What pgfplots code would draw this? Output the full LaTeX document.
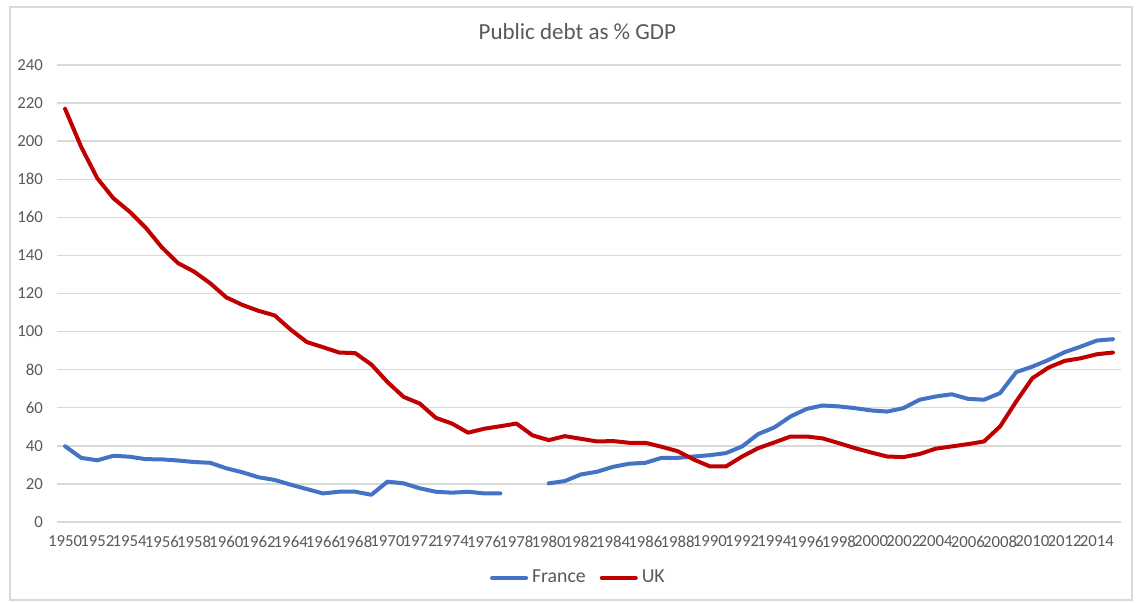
\documentclass[border=0pt]{standalone}
\usepackage{fontspec}
\setmainfont{Carlito}
\usepackage{xcolor}
\usepackage{pgfplots}
\pgfplotsset{compat=1.18}

\definecolor{frblue}{HTML}{4472C4}
\definecolor{ukred}{HTML}{C00000}
\definecolor{txtgrey}{HTML}{595959}
\definecolor{gridgrey}{HTML}{D9D9D9}

% public debt, % of GDP (nan = no data)
\pgfplotstableread{
year france uk
1950 39.8 217.0
1951 33.7 197.0
1952 32.4 180.5
1953 34.8 170.0
1954 34.3 163.0
1955 33.0 154.6
1956 32.9 144.3
1957 32.3 136.0
1958 31.5 131.5
1959 31.1 125.4
1960 28.2 118.0
1961 26.1 114.0
1962 23.5 110.9
1963 22.1 108.5
1964 19.6 101.0
1965 17.3 94.5
1966 15.0 91.8
1967 15.9 89.0
1968 15.9 88.7
1969 14.3 82.7
1970 21.2 73.5
1971 20.3 65.7
1972 17.7 62.2
1973 15.9 54.7
1974 15.4 51.7
1975 15.9 46.9
1976 15.0 49.0
1977 15.0 50.3
1978 nan 51.7
1979 nan 45.5
1980 20.3 43.0
1981 21.5 45.1
1982 25.0 43.7
1983 26.4 42.3
1984 29.0 42.5
1985 30.6 41.6
1986 31.1 41.6
1987 33.7 39.5
1988 33.7 37.2
1989 34.4 32.8
1990 35.1 29.2
1991 36.2 29.2
1992 39.7 34.4
1993 46.2 38.8
1994 49.7 41.8
1995 55.4 44.9
1996 59.4 44.9
1997 61.2 43.9
1998 60.7 41.4
1999 59.8 38.8
2000 58.6 36.5
2001 58.0 34.4
2002 59.8 34.1
2003 64.2 35.7
2004 65.9 38.5
2005 67.1 39.7
2006 64.7 40.9
2007 64.2 42.3
2008 67.7 50.2
2009 78.7 63.3
2010 81.6 75.5
2011 85.1 81.1
2012 89.2 84.6
2013 92.1 86.0
2014 95.3 88.1
2015 96.0 89.0
}\debt

\begin{document}
\begin{tikzpicture}
\useasboundingbox (0pt,0pt) rectangle (569pt,301pt);
\draw[gridgrey, line width=0.6pt] (5pt,1pt) rectangle (566pt,297.5pt);
\begin{axis}[
  at={(28.5pt,40pt)}, anchor=south west,
  scale only axis, width=532pt, height=228.5pt,
  xmin=1949.5, xmax=2015.5,
  ymin=0, ymax=240,
  xtick={1950,1952,...,2014},
  ytick={0,20,...,240},
  /pgf/number format/1000 sep={},
  /pgf/number format/assume math mode=true,
  axis line style={draw=none},
  major tick length=0pt,
  ymajorgrids, grid style={gridgrey, line width=0.7pt},
  tick label style={font=\fontsize{8.4}{9}\selectfont, text=txtgrey},
  xticklabel style={yshift=-3.5pt},
  yticklabel style={xshift=-3.5pt},
  title={Public debt as \% GDP},
  title style={at={(0.489,1)}, anchor=center, yshift=10.5pt,
    font=\fontsize{11.5}{12}\selectfont, text=txtgrey},
  unbounded coords=jump,
  legend columns=2,
  legend style={at={(0.491,-0.1225)}, anchor=center, draw=none,
    font=\fontsize{9.9}{10}\selectfont, text=txtgrey,
    /tikz/every even column/.append style={column sep=5pt}},
  legend image code/.code={\draw[#1, line width=2pt] (0pt,0pt) -- (17pt,0pt);},
  every axis plot/.append style={line width=2pt, line join=round, line cap=round},
]
\addplot[frblue, no marks] table[x=year, y=france] {\debt};
\addlegendentry{France}
\addplot[ukred, no marks] table[x=year, y=uk] {\debt};
\addlegendentry{UK}
\end{axis}
\end{tikzpicture}
\end{document}
